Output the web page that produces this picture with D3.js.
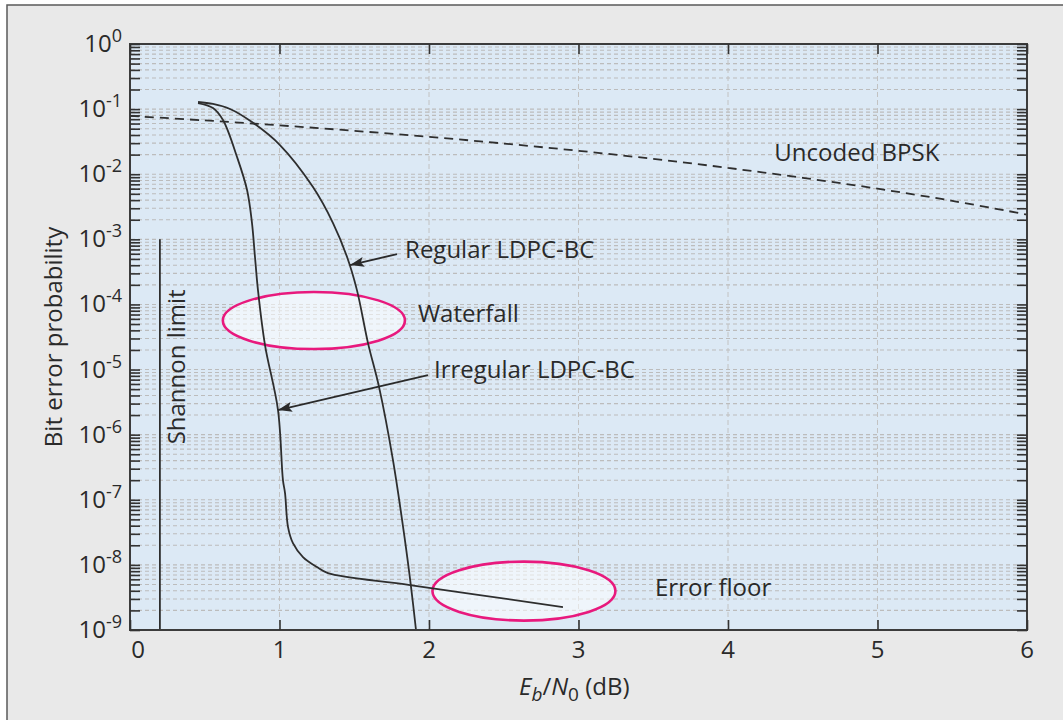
<!DOCTYPE html>
<html>
<head>
<meta charset="utf-8">
<script src="https://cdn.jsdelivr.net/npm/d3@7"></script>
<style>
  html, body { margin: 0; padding: 0; background: #ffffff; }
  svg { display: block; }
  text { font-family: "Open Sans", "Noto Sans", sans-serif; fill: #2a2a2a; }
</style>
</head>
<body>
<svg id="chart" width="1063" height="720"></svg>
<script>
// ---------------- DATA ----------------
const xTickValues = [0, 1, 2, 3, 4, 5, 6];
const yTickExponents = [0, -1, -2, -3, -4, -5, -6, -7, -8, -9];

// Uncoded BPSK (dashed)
const bpskX = [0, 0.5, 1, 1.5, 2, 2.5, 3, 3.5, 4, 4.5, 5, 5.5, 6];
const bpskY = [0.0786, 0.0671, 0.0563, 0.0464, 0.0375, 0.0296, 0.0229, 0.0172, 0.0125, 0.0088, 0.0060, 0.0039, 0.0024];

// Regular LDPC-BC
const regularX = [0.455, 0.555, 0.669, 0.816, 1.003, 1.224, 1.358, 1.452, 1.518, 1.592, 1.666, 1.759, 1.839, 1.880, 1.913];
const regularY = [0.1285, 0.120, 0.1005, 0.0633, 0.0281, 6.35e-3, 1.78e-3, 5.35e-4, 1.66e-4, 2.55e-5, 5.38e-6, 4.07e-7, 2.40e-8, 4.56e-9, 1e-9];

// Irregular LDPC-BC
const irregularX = [0.455, 0.555, 0.622, 0.716, 0.783, 0.816, 0.836, 0.856, 0.903, 0.990, 1.023, 1.037, 1.057, 1.090, 1.157, 1.251, 1.324, 1.873, 2.896];
const irregularY = [0.124, 0.104, 0.068, 0.01837, 5.72e-3, 1.78e-3, 5.35e-4, 1.66e-4, 2.38e-5, 2.39e-6, 2.01e-7, 1.27e-7, 3.81e-8, 2.16e-8, 1.32e-8, 9.25e-9, 7.48e-9, 4.9e-9, 2.25e-9];

// Shannon limit
const shannonX = [0.2, 0.2];
const shannonY = [1e-3, 1e-9];

// Text annotations (data coordinates)
const labelTexts = ["Uncoded BPSK", "Regular LDPC-BC", "Waterfall", "Irregular LDPC-BC", "Error floor"];
const labelX = [4.31, 1.84, 1.926, 2.033, 3.512];
const labelY = [0.01596, 5.16e-4, 5.37e-5, 7.4e-6, 3.32e-9];

// Arrows
const arrowFromX = [1.786, 1.993];
const arrowFromY = [5.94e-4, 8.24e-6];
const arrowToX = [1.472, 0.990];
const arrowToY = [4.03e-4, 2.39e-6];

// Ellipses: center (dB, BER), half-width (dB), half-height (decades)
const ellipseCX = [1.23, 2.635];
const ellipseCY = [5.66e-5, 3.96e-9];
const ellipseRX = [0.609, 0.612];
const ellipseRYdec = [0.438, 0.453];

// ---------------- LAYOUT ----------------
const svg = d3.select("#chart");
const L = 130, R = 1027, T = 44, B = 630;

const x = d3.scaleLinear().domain([0, 6]).range([L, R]);
const y = d3.scaleLog().domain([1e-9, 1]).range([B, T]);

// outer panel
svg.append("rect").attr("x", 7).attr("y", 5).attr("width", 1070).attr("height", 730)
  .attr("fill", "#e9e9e9").attr("stroke", "#5a5a5a").attr("stroke-width", 1.5);

// plot background
svg.append("rect").attr("x", L).attr("y", T).attr("width", R - L).attr("height", B - T)
  .attr("fill", "#dce9f5");

// all log ticks
const allYTicks = [];
for (let e = 0; e >= -9; e--) {
  allYTicks.push(Math.pow(10, e));
  if (e > -9) for (let k = 9; k >= 2; k--) allYTicks.push(k * Math.pow(10, e - 1));
}

// grid
const grid = svg.append("g");
grid.selectAll("line.h").data(allYTicks.filter(v => v < 1 && v > 1e-9)).enter().append("line")
  .attr("x1", L + 1).attr("x2", R - 1)
  .attr("y1", d => y(d)).attr("y2", d => y(d))
  .attr("stroke", "#bcbcbc").attr("stroke-width", 1.1).attr("stroke-dasharray", "4,3");
grid.selectAll("line.v").data([1, 2, 3, 4, 5]).enter().append("line")
  .attr("x1", d => x(d)).attr("x2", d => x(d))
  .attr("y1", T).attr("y2", B)
  .attr("stroke", "#c2c2c2").attr("stroke-width", 1).attr("stroke-dasharray", "5,3");

// ellipses
svg.append("g").selectAll("ellipse").data(ellipseCX).enter().append("ellipse")
  .attr("cx", (d, i) => x(d))
  .attr("cy", (d, i) => y(ellipseCY[i]))
  .attr("rx", (d, i) => x(d + ellipseRX[i]) - x(d))
  .attr("ry", (d, i) => y(ellipseCY[i]) - y(ellipseCY[i] * Math.pow(10, ellipseRYdec[i])))
  .attr("fill", "rgba(255,255,255,0.55)")
  .attr("stroke", "#e8197d").attr("stroke-width", 2.6);

// curves
const smooth = d3.line().x(d => x(d[0])).y(d => y(d[1])).curve(d3.curveCatmullRom.alpha(0.5));
svg.append("path").datum(bpskX.map((v, i) => [v, bpskY[i]]))
  .attr("d", smooth)
  .attr("fill", "none").attr("stroke", "#2e2e2e").attr("stroke-width", 1.8).attr("stroke-dasharray", "9,6");
svg.append("path").datum(regularX.map((v, i) => [v, regularY[i]]))
  .attr("d", smooth)
  .attr("fill", "none").attr("stroke", "#2e2e2e").attr("stroke-width", 1.8);
svg.append("path").datum(irregularX.map((v, i) => [v, irregularY[i]]))
  .attr("d", smooth)
  .attr("fill", "none").attr("stroke", "#2e2e2e").attr("stroke-width", 1.8);
svg.append("line")
  .attr("x1", x(shannonX[0])).attr("x2", x(shannonX[1]))
  .attr("y1", y(shannonY[0])).attr("y2", y(shannonY[1]))
  .attr("stroke", "#2e2e2e").attr("stroke-width", 1.8);

// arrows
const defs = svg.append("defs");
defs.append("marker").attr("id", "ah").attr("viewBox", "0 0 14 10")
  .attr("refX", 14).attr("refY", 5).attr("markerWidth", 14).attr("markerHeight", 10)
  .attr("markerUnits", "userSpaceOnUse").attr("orient", "auto")
  .append("path").attr("d", "M0,0 L14,5 L0,10 L3,5 Z").attr("fill", "#2a2a2a");
svg.append("g").selectAll("line").data(arrowFromX).enter().append("line")
  .attr("x1", d => x(d)).attr("y1", (d, i) => y(arrowFromY[i]))
  .attr("x2", (d, i) => x(arrowToX[i])).attr("y2", (d, i) => y(arrowToY[i]))
  .attr("stroke", "#2a2a2a").attr("stroke-width", 1.8).attr("marker-end", "url(#ah)");

// frame
svg.append("rect").attr("x", L).attr("y", T).attr("width", R - L).attr("height", B - T)
  .attr("fill", "none").attr("stroke", "#3c3c3c").attr("stroke-width", 2);

// axes ticks (inward)
const tickStyle = g => {
  g.select(".domain").remove();
  g.selectAll(".tick line").attr("stroke", "#333").attr("stroke-width", 1.6);
  g.selectAll(".tick text").remove();
};
svg.append("g").attr("transform", `translate(${L},0)`)
  .call(d3.axisLeft(y).tickValues(allYTicks).tickSize(-10).tickFormat(""))
  .call(tickStyle);
svg.append("g").attr("transform", `translate(${R},0)`)
  .call(d3.axisRight(y).tickValues(allYTicks).tickSize(-10).tickFormat(""))
  .call(tickStyle);
svg.append("g").attr("transform", `translate(0,${T})`)
  .call(d3.axisTop(x).tickValues(xTickValues).tickSize(-10).tickFormat(""))
  .call(tickStyle);
svg.append("g").attr("transform", `translate(0,${B})`)
  .call(d3.axisBottom(x).tickValues(xTickValues).tickSize(-10).tickFormat(""))
  .call(tickStyle);

// y tick labels
const yl = svg.append("g").selectAll("text").data(yTickExponents).enter().append("text")
  .attr("x", 122).attr("y", d => y(Math.pow(10, d)) + 8)
  .attr("text-anchor", "end").attr("font-size", 24);
yl.append("tspan").text("10");
yl.append("tspan").attr("font-size", 18).attr("dy", -10).text(d => String(d));

// x tick labels
svg.append("g").selectAll("text").data(xTickValues).enter().append("text")
  .attr("x", d => x(d) + (d === 0 ? 8 : 0)).attr("y", 658)
  .attr("text-anchor", "middle").attr("font-size", 24)
  .text(d => d);

// axis titles
const xt = svg.append("text").attr("x", 519).attr("y", 695)
  .attr("text-anchor", "start").attr("font-size", 24);
xt.append("tspan").attr("font-style", "italic").text("E");
xt.append("tspan").attr("font-style", "italic").attr("font-size", 19).attr("dy", 6).text("b");
xt.append("tspan").attr("dy", -6).text("/");
xt.append("tspan").attr("font-style", "italic").text("N");
xt.append("tspan").attr("font-size", 19).attr("dy", 6).text("0");
xt.append("tspan").attr("dy", -6).text("\u00A0(dB)");

svg.append("text").attr("transform", `translate(62,${(T + B) / 2}) rotate(-90)`)
  .attr("text-anchor", "middle").attr("font-size", 24).text("Bit error probability");

svg.append("text").attr("transform", `translate(${x(0.368)},${y(1.1e-5)}) rotate(-90)`)
  .attr("text-anchor", "middle").attr("font-size", 24).text("Shannon limit");

// annotations
svg.append("g").selectAll("text").data(labelTexts).enter().append("text")
  .attr("x", (d, i) => x(labelX[i])).attr("y", (d, i) => y(labelY[i]))
  .attr("font-size", 24).text(d => d);
</script>
</body>
</html>
